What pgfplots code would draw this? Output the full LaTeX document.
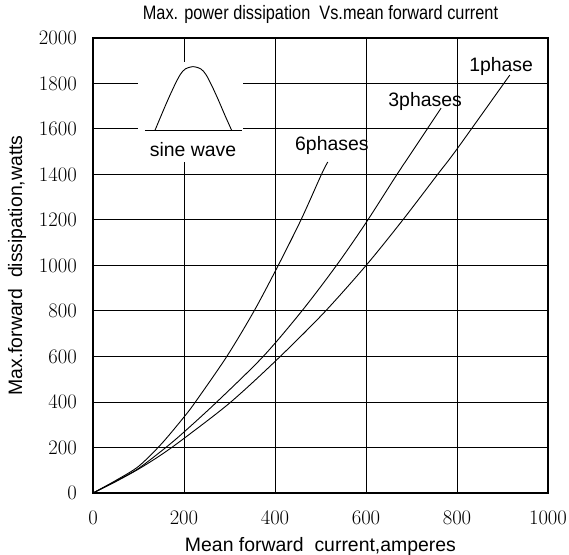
\documentclass[border=0pt]{standalone}
\usepackage{pgfplots}
\pgfplotsset{compat=1.18}
\usepackage{fontspec}
\setmainfont{Liberation Sans}
\newfontfamily\narrowfont[FakeStretch=0.84]{Liberation Sans}
\begin{document}
\begin{tikzpicture}
\begin{axis}[
  scale only axis, width=455bp, height=455bp,
  xmin=0, xmax=1000, ymin=0, ymax=2000,
  xtick={0,200,...,1000}, ytick={0,200,...,2000},
  /pgf/number format/1000 sep={},
  grid=major, major grid style={black, line width=1bp},
  axis line style={black, line width=1.6bp},
  tick style={draw=none},
  xticklabel style={font=\fontsize{19.6}{22}\selectfont, anchor=north, inner sep=0pt, yshift=-18bp},
  yticklabel style={font=\fontsize{19.6}{22}\selectfont, anchor=east, inner sep=0pt, xshift=-16bp},
  title={\narrowfont\fontsize{19.5}{22}\selectfont Max. power dissipation\ \ Vs.mean forward current},
  title style={at={(axis description cs:0.5,1)}, anchor=base, yshift=13bp, inner sep=0pt},
  xlabel={Mean forward\ \ current,amperes},
  xlabel style={font=\fontsize{19.5}{22}\selectfont, at={(axis description cs:0.5,0)}, anchor=base, yshift=-58bp, inner sep=0pt},
  ylabel={Max.forward\ \ dissipation,watts},
  ylabel style={font=\fontsize{19.5}{22}\selectfont, at={(axis description cs:-0.156,0.5)}, anchor=base, inner sep=0pt},
  clip=false,
]
% 1 phase
\addplot[black, line width=0.9bp, smooth, tension=0.5] coordinates {(0,0) (50,50) (100,105) (150,168) (200,240) (300,395) (400,578) (505,787) (600,1000) (680,1198) (758,1402) (800,1512) (916,1837)};
% 3 phases
\addplot[black, line width=0.9bp, smooth, tension=0.5] coordinates {(0,0) (50,52) (100,108) (160,200) (200,268) (272,400) (374,600) (459,800) (535,1000) (600,1188) (668,1400) (708,1520) (765,1692)};
% 6 phases
\addplot[black, line width=0.9bp, smooth, tension=0.5] coordinates {(0,0) (50,55) (100,117) (150,215) (200,334) (225,400) (294,600) (354,800) (407,1000) (457,1200) (502,1400) (516,1455)};
% inset: white background and sine wave symbol
\fill[white] (axis cs:99,1455) rectangle (axis cs:330,1895);
\addplot[black, line width=0.9bp] coordinates {(114,1593) (327,1593)};
\addplot[black, line width=0.9bp, smooth, tension=0.5] coordinates {(136,1593) (150,1660) (165,1730) (180,1795) (192,1840) (203,1864) (220,1874) (237,1864) (248,1840) (260,1795) (275,1730) (290,1660) (305,1593)};
\node[anchor=base, inner sep=0pt, font=\fontsize{19.5}{22}\selectfont] at (axis cs:220,1478) {sine wave};
\node[anchor=base, inner sep=0pt, font=\fontsize{19.5}{22}\selectfont] at (axis cs:897,1851) {1phase};
\node[anchor=base, inner sep=0pt, font=\fontsize{19.5}{22}\selectfont] at (axis cs:730,1697) {3phases};
\node[anchor=base, inner sep=0pt, font=\fontsize{19.5}{22}\selectfont] at (axis cs:525,1505) {6phases};
\end{axis}
\pgfresetboundingbox
\path[use as bounding box] (current axis.south west) ++(-93bp,-62bp) rectangle ++(569bp,555bp);
\end{tikzpicture}
\end{document}
